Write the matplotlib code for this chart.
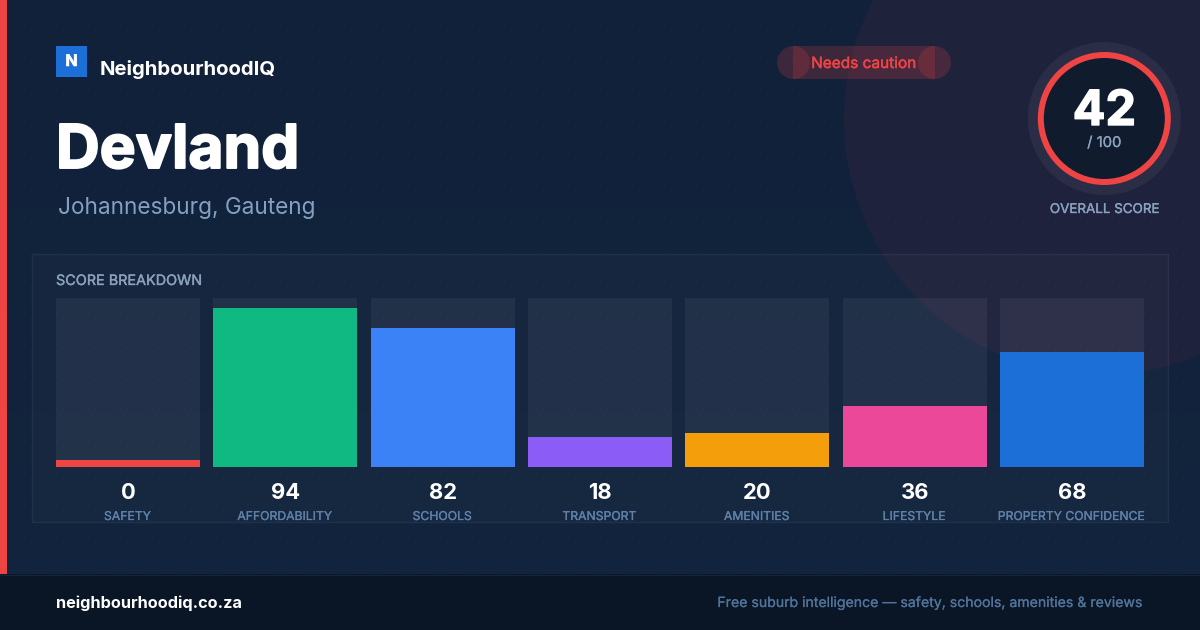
# -*- coding: utf-8 -*-
import matplotlib
matplotlib.use('Agg')
import matplotlib.pyplot as plt
import matplotlib.patheffects as pe
from matplotlib.patches import Rectangle, Circle
import numpy as np

plt.rcParams['font.family'] = ['Inter', 'DejaVu Sans']

categories = ['SAFETY', 'AFFORDABILITY', 'SCHOOLS', 'TRANSPORT', 'AMENITIES', 'LIFESTYLE', 'PROPERTY CONFIDENCE']
scores = [0, 94, 82, 18, 20, 36, 68]
bar_colors = ['#ef4444', '#10b981', '#3b82f6', '#8b5cf6', '#f59e0b', '#ec4899', '#1d6fd8']
overall = 42
min_bar = 4  # a zero score still shows a sliver

W, H = 1200, 630


def px(size):
    return size * 0.72


def heavy(t, amount):
    # Inter only comes in a few weights here, thicken with a thin outline
    t.set_path_effects([pe.withStroke(linewidth=amount, foreground=t.get_color())])
    return t


fig = plt.figure(figsize=(12, 6.3), dpi=100)
bg = fig.add_axes([0, 0, 1, 1])
bg.set_xlim(0, W)
bg.set_ylim(H, 0)
bg.axis('off')

# background gradient
grad = np.linspace(0, 1, 64).reshape(-1, 1)
top, bottom = np.array([0x11, 0x21, 0x3a]), np.array([0x13, 0x24, 0x3e])
bg.imshow((top + (bottom - top) * grad[..., None]) / 255, extent=[0, W, H, 0], aspect='auto', zorder=0)
bg.set_xlim(0, W)
bg.set_ylim(H, 0)

# faint dot grid
gx, gy = np.meshgrid(np.arange(24, W, 32), np.arange(24, 575, 32))
bg.scatter(gx.ravel(), gy.ravel(), s=2.5, color='white', alpha=0.03, linewidths=0, zorder=1)

# big glow circle
bg.add_patch(Circle((1100, 119), 256, color='#d0304f', alpha=0.07, lw=0, zorder=1))

# red strip and footer
bg.add_patch(Rectangle((0, 0), 7, 574, color='#ef4444', lw=0, zorder=3))
bg.add_patch(Rectangle((0, 574), W, 56, color='#0a1525', lw=0, zorder=3))
bg.plot([0, W], [574.5, 574.5], color='#16243a', lw=1, zorder=4)

# panel
bg.add_patch(Rectangle((32, 254), 1136, 268, facecolor=(1, 1, 1, 0.02), edgecolor=(1, 1, 1, 0.06), lw=1, zorder=2))

# logo
bg.add_patch(Rectangle((56, 46), 31, 31, color='#1d6fd8', lw=0, zorder=3))
heavy(bg.text(71.5, 66, 'N', color='white', fontsize=px(16), fontweight='bold', ha='center', va='baseline', zorder=4), 0.4)
bg.text(100, 75, 'NeighbourhoodIQ', color='white', fontsize=px(20.3), fontweight='bold', va='baseline', zorder=4)
heavy(bg.text(56, 168, 'Devland', color='white', fontsize=px(60.5), fontweight='bold', va='baseline', zorder=4), 1.4)
bg.text(58, 214, 'Johannesburg, Gauteng', color='#84a0c0', fontsize=px(22.6), va='baseline', zorder=4)

# status pill, the ends overlap the middle
pill = (0.937, 0.267, 0.267, 0.2)
bg.add_patch(Rectangle((793, 46), 142, 33, facecolor=pill, lw=0, zorder=3))
bg.add_patch(Circle((793.5, 62.5), 16.5, facecolor=pill, lw=0, zorder=3))
bg.add_patch(Circle((934.5, 62.5), 16.5, facecolor=pill, lw=0, zorder=3))
heavy(bg.text(863.5, 68, 'Needs caution', color='#ef4444', fontsize=px(15.4), ha='center', va='baseline', zorder=4), 0.35)

# score ring
cx, cy = 1104.3, 118.5
bg.add_patch(Circle((cx, cy), 76.5, color='#2a2d45', lw=0, zorder=3))
bg.add_patch(Circle((cx, cy), 66.5, color='#ef4444', lw=0, zorder=3))
bg.add_patch(Circle((cx, cy), 60.5, color='#101b2e', lw=0, zorder=3))
heavy(bg.text(cx, 125, str(overall), color='white', fontsize=px(48.5), fontweight='bold', ha='center', va='baseline', zorder=4), 1.0)
heavy(bg.text(cx, 147, '/ 100', color='#8aa2bd', fontsize=px(14.8), ha='center', va='baseline', zorder=4), 0.2)
heavy(bg.text(cx, 213, 'OVERALL SCORE', color='#8aa2bd', fontsize=px(13.4), ha='center', va='baseline', zorder=4), 0.25)

heavy(bg.text(56, 285, 'SCORE BREAKDOWN', color='#8aa2bd', fontsize=px(14.4), va='baseline', zorder=4), 0.25)

# bars in their own axes, y is the score
ax = fig.add_axes([56 / W, 1 - 467 / H, 1088 / W, 169 / H])
ax.patch.set_alpha(0)
ax.axis('off')
x = np.arange(len(scores))
width = 144 / 157.33
ax.bar(x, [100] * len(x), width=width, color='white', alpha=0.055, lw=0)
ax.bar(x, [max(s, min_bar) for s in scores], width=width, color=bar_colors, lw=0)
ax.set_xlim(-width / 2, len(x) - 1 + width / 2)
ax.set_ylim(0, 100)

# bar captions
for i, (s, c) in enumerate(zip(scores, categories)):
    xc = 128 + i * 157.33
    bg.text(xc + 0.3, 499, str(s), color='white', fontsize=px(22), fontweight='bold', ha='center', va='baseline', zorder=4)
    heavy(bg.text(xc - 0.5, 520, c, color='#5f80a8', fontsize=px(12.2), ha='center', va='baseline', zorder=4), 0.2)

# footer text
bg.text(56, 608, 'neighbourhoodiq.co.za', color='white', fontsize=px(16.3), fontweight='bold', va='baseline', zorder=5)
heavy(bg.text(1145, 607, 'Free suburb intelligence — safety, schools, amenities & reviews', color='#527399', fontsize=px(14.1), ha='right', va='baseline', zorder=5), 0.15)

fig.savefig('out.png', dpi=100)
